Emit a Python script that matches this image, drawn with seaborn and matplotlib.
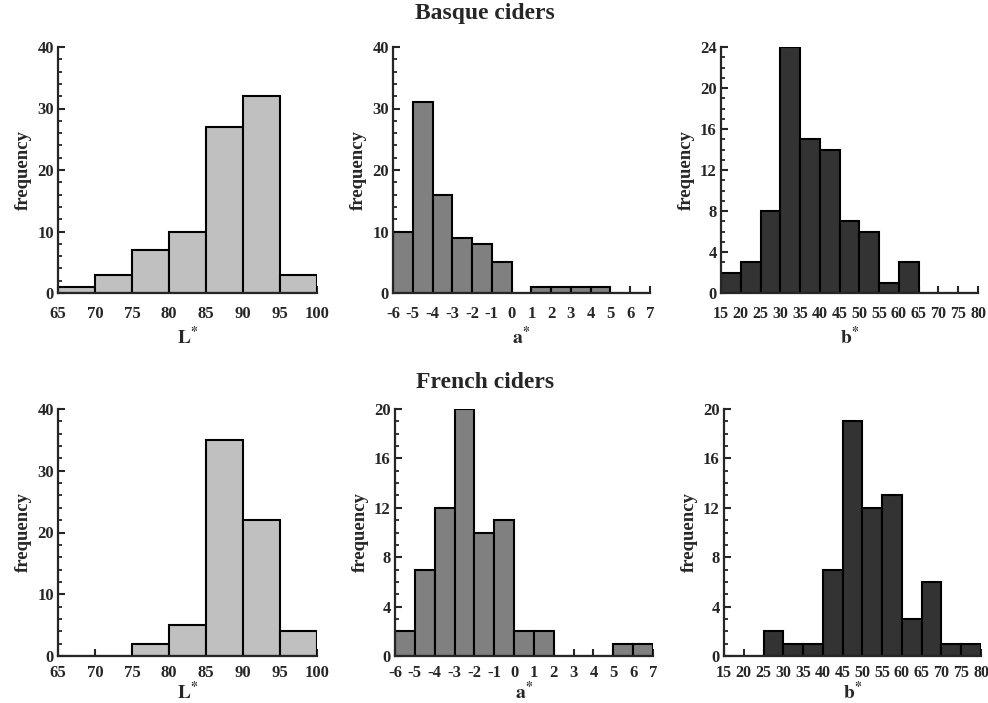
import numpy as np
import matplotlib
matplotlib.use('Agg')
import matplotlib.pyplot as plt
from matplotlib.ticker import MultipleLocator
import seaborn as sns

# bin edges for each colour coordinate
L_edges = [65, 70, 75, 80, 85, 90, 95, 100]
a_edges = [-6, -5, -4, -3, -2, -1, 0, 1, 2, 3, 4, 5, 6, 7]
b_edges = [15, 20, 25, 30, 35, 40, 45, 50, 55, 60, 65, 70, 75, 80]

# frequencies
basque_L = [1, 3, 7, 10, 27, 32, 3]
basque_a = [10, 31, 16, 9, 8, 5, 0, 1, 1, 1, 1, 0, 0]
basque_b = [2, 3, 8, 24, 15, 14, 7, 6, 1, 3, 0, 0, 0]

french_L = [0, 0, 2, 5, 35, 22, 4]
french_a = [2, 7, 12, 20, 10, 11, 2, 2, 0, 0, 0, 1, 1]
french_b = [0, 0, 2, 1, 1, 7, 19, 12, 13, 3, 6, 1, 1]

sns.set_style('ticks')
plt.rcParams['font.family'] = ['Liberation Serif', 'DejaVu Serif']
plt.rcParams['font.weight'] = 'bold'
plt.rcParams['mathtext.fontset'] = 'stix'

fig = plt.figure(figsize=(9.88, 7.03), dpi=100)
W, H = 988, 703


def px_axes(x0, x1, ytop, ybot):
    return fig.add_axes([x0 / W, 1 - ybot / H, (x1 - x0) / W, (ybot - ytop) / H])


def draw(ax, edges, counts, color, ymax, major, minor, xlabel, xsize=12,
         xpad=8, lpad=3):
    centers = [(edges[i] + edges[i + 1]) / 2 for i in range(len(counts))]
    sns.histplot(x=centers, weights=counts, bins=edges, ax=ax, color=color,
                 alpha=1, edgecolor='black', linewidth=1.5)
    ax.set_xlim(edges[0], edges[-1])
    ax.set_ylim(0, ymax)
    ax.set_xticks(edges)
    ax.set_xticklabels([str(e) for e in edges])
    ax.yaxis.set_major_locator(MultipleLocator(major))
    ax.yaxis.set_minor_locator(MultipleLocator(minor))
    for side in ['top', 'right']:
        ax.spines[side].set_visible(False)
    for side in ['left', 'bottom']:
        ax.spines[side].set_linewidth(1.6)
    ax.tick_params(axis='both', which='major', direction='in', length=5, width=1.5)
    ax.tick_params(axis='x', which='major', labelsize=xsize, pad=xpad)
    ax.tick_params(axis='y', which='major', labelsize=12, pad=3)
    ax.tick_params(axis='y', which='minor', direction='in', length=3, width=1.3)
    for lab in ax.get_xticklabels() + ax.get_yticklabels():
        lab.set_fontweight('bold')
    ax.set_ylabel('frequency', fontsize=13.5, fontweight='bold', labelpad=4)
    ax.set_xlabel(xlabel, fontsize=14, labelpad=lpad)


light, mid, dark = '#c0c0c0', '#808080', '#333333'
Lx = r'$\mathbf{L^{*}}$'
ax_ = r'$\mathbf{a^{*}}$'
bx = r'$\mathbf{b^{*}}$'

ax1 = px_axes(58, 317, 47, 293)
draw(ax1, L_edges, basque_L, light, 40, 10, 2, Lx, xpad=9.5)
ax2 = px_axes(393, 650, 47, 293)
draw(ax2, a_edges, basque_a, mid, 40, 10, 2, ax_, xpad=9.5)
ax3 = px_axes(721, 978, 47, 293)
draw(ax3, b_edges, basque_b, dark, 24, 4, 1, bx, xsize=11.5, xpad=9.5)

ax4 = px_axes(58, 317, 409, 656)
draw(ax4, L_edges, french_L, light, 40, 10, 2, Lx, xpad=6.5, lpad=0)
ax5 = px_axes(395, 653, 409, 656)
draw(ax5, a_edges, french_a, mid, 20, 4, 1, ax_, xpad=6.5, lpad=0)
ax6 = px_axes(724, 981, 409, 656)
draw(ax6, b_edges, french_b, dark, 20, 4, 1, bx, xsize=11.5, xpad=6.5, lpad=0)

fig.text(485 / W, 1 - 13 / H, 'Basque ciders', ha='center', va='center',
         fontsize=17, fontweight='bold')
fig.text(485 / W, 1 - 383 / H, 'French ciders', ha='center', va='center',
         fontsize=17, fontweight='bold')

fig.savefig('out.png', dpi=100)
